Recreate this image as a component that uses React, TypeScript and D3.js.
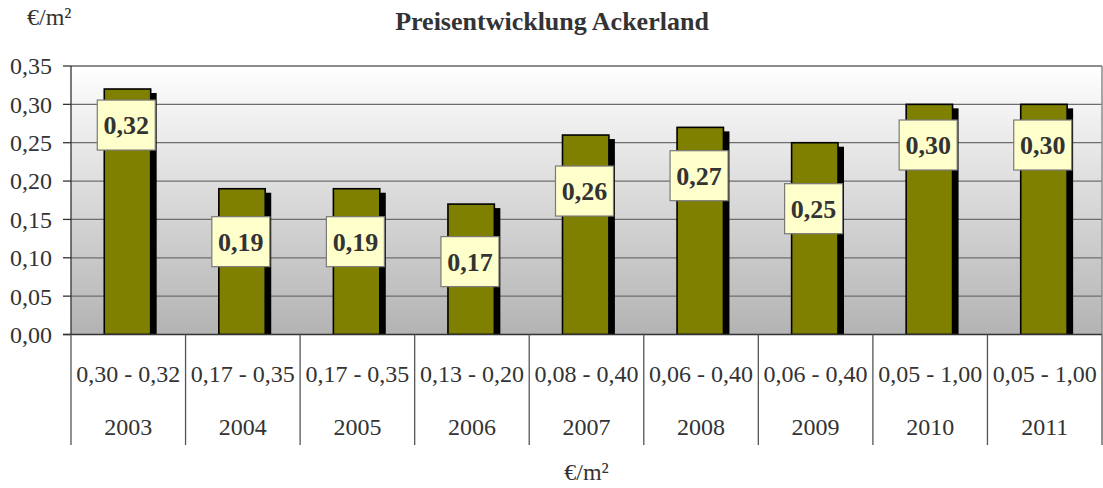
import React from "react";
import * as d3 from "d3";

// Preisentwicklung Ackerland (€/m²)
const years = ["2003", "2004", "2005", "2006", "2007", "2008", "2009", "2010", "2011"];
const prices = [0.32, 0.19, 0.19, 0.17, 0.26, 0.27, 0.25, 0.3, 0.3];
const ranges = [
  "0,30 - 0,32", "0,17 - 0,35", "0,17 - 0,35", "0,13 - 0,20", "0,08 - 0,40",
  "0,06 - 0,40", "0,06 - 0,40", "0,05 - 1,00", "0,05 - 1,00",
];
// where each value label box sits (in €/m²)
const labelAt = [0.273, 0.121, 0.121, 0.095, 0.187, 0.207, 0.164, 0.247, 0.247];
const yTicks = [0, 0.05, 0.1, 0.15, 0.2, 0.25, 0.3, 0.35];

const W = 1103, H = 488;
const left = 71, right = 1102, top = 66, bottom = 334.5;
const fmt = (v: number) => d3.format(".2f")(v).replace(".", ",");

export default function App() {
  const x = d3.scaleBand().domain(years).range([left, right]).paddingInner(0).paddingOuter(0);
  const y = d3.scaleLinear().domain([0, 0.35]).range([bottom, top]);
  const bw = x.bandwidth() * 0.405;
  const boxW = 58, boxH = 50;

  return (
    <div style={{ position: "absolute", left: 0, top: 0, fontFamily: "Times New Roman" }}>
      <svg width={W} height={H} fontFamily="Times New Roman">
        <defs>
          <linearGradient id="bg" x1="0" y1="0" x2="0" y2="1">
            <stop offset="0" stopColor="#ffffff" />
            <stop offset="1" stopColor="#b3b3b3" />
          </linearGradient>
          <clipPath id="plot">
            <rect x={left} y={top} width={right - left} height={bottom - top} />
          </clipPath>
        </defs>

        <text x={552} y={30} textAnchor="middle" fontWeight="bold" fontSize={26} fill="#333">
          Preisentwicklung Ackerland
        </text>
        <text x={27} y={25} fontSize={24} fill="#333">€/m²</text>

        {/* plot area */}
        <rect x={left} y={top} width={right - left} height={bottom - top} fill="url(#bg)" />
        {yTicks.slice(1).map((t) => (
          <line key={t} x1={left} x2={right} y1={y(t)} y2={y(t)} stroke="#6e6e6e" strokeWidth={1.3} />
        ))}
        <line x1={right} x2={right} y1={top} y2={bottom} stroke="#8a8a8a" strokeWidth={1.5} />
        <line x1={left} x2={right} y1={top} y2={top} stroke="#8a8a8a" strokeWidth={1.5} />

        {/* y axis */}
        <line x1={left} x2={left} y1={top} y2={bottom} stroke="#333" strokeWidth={1.3} />
        {yTicks.map((t) => (
          <g key={t}>
            <line x1={63} x2={left} y1={y(t)} y2={y(t)} stroke="#333" strokeWidth={1.3} />
            <text x={52} y={y(t)} dy="0.35em" textAnchor="end" fontSize={24} fill="#333">
              {fmt(t)}
            </text>
          </g>
        ))}

        {/* bars with shadow */}
        <g clipPath="url(#plot)">
          {prices.map((v, i) => {
            const cx = (x(years[i]) as number) + x.bandwidth() / 2 - 0.8;
            return (
              <g key={i}>
                <rect x={cx - bw / 2 + 6} y={y(v) + 4} width={bw} height={bottom - y(v)} fill="#000" />
                <rect x={cx - bw / 2} y={y(v)} width={bw} height={bottom - y(v)}
                  fill="#808000" stroke="#000" strokeWidth={1.6} />
              </g>
            );
          })}
        </g>
        <line x1={63} x2={right} y1={bottom} y2={bottom} stroke="#333" strokeWidth={1.5} />

        {/* value labels */}
        {prices.map((v, i) => {
          const cx = (x(years[i]) as number) + x.bandwidth() / 2 - 2;
          const cy = y(labelAt[i]);
          return (
            <g key={i}>
              <rect x={cx - boxW / 2} y={cy - boxH / 2} width={boxW} height={boxH}
                fill="#ffffcc" stroke="#7a7a7a" strokeWidth={1.2} />
              <text x={cx} y={cy} dy="0.35em" textAnchor="middle" fontWeight="bold" fontSize={26} fill="#333">
                {fmt(v)}
              </text>
            </g>
          );
        })}

        {/* data table under the axis */}
        {[...years.map((yr) => x(yr) as number), right].map((px, i) => (
          <line key={i} x1={px} x2={px} y1={bottom} y2={445} stroke="#555" strokeWidth={1.3} />
        ))}
        {years.map((yr, i) => {
          const cx = (x(yr) as number) + x.bandwidth() / 2;
          return (
            <g key={yr}>
              <text x={cx} y={374} dy="0.35em" fontSize={24} fill="#333" textAnchor="middle">
                {ranges[i]}
              </text>
              <text x={cx} y={427} dy="0.35em" fontSize={24} fill="#333" textAnchor="middle">
                {yr}
              </text>
            </g>
          );
        })}
        <text x={(left + right) / 2} y={472} dy="0.35em" textAnchor="middle" fontSize={24} fill="#333">
          €/m²
        </text>
      </svg>
    </div>
  );
}
